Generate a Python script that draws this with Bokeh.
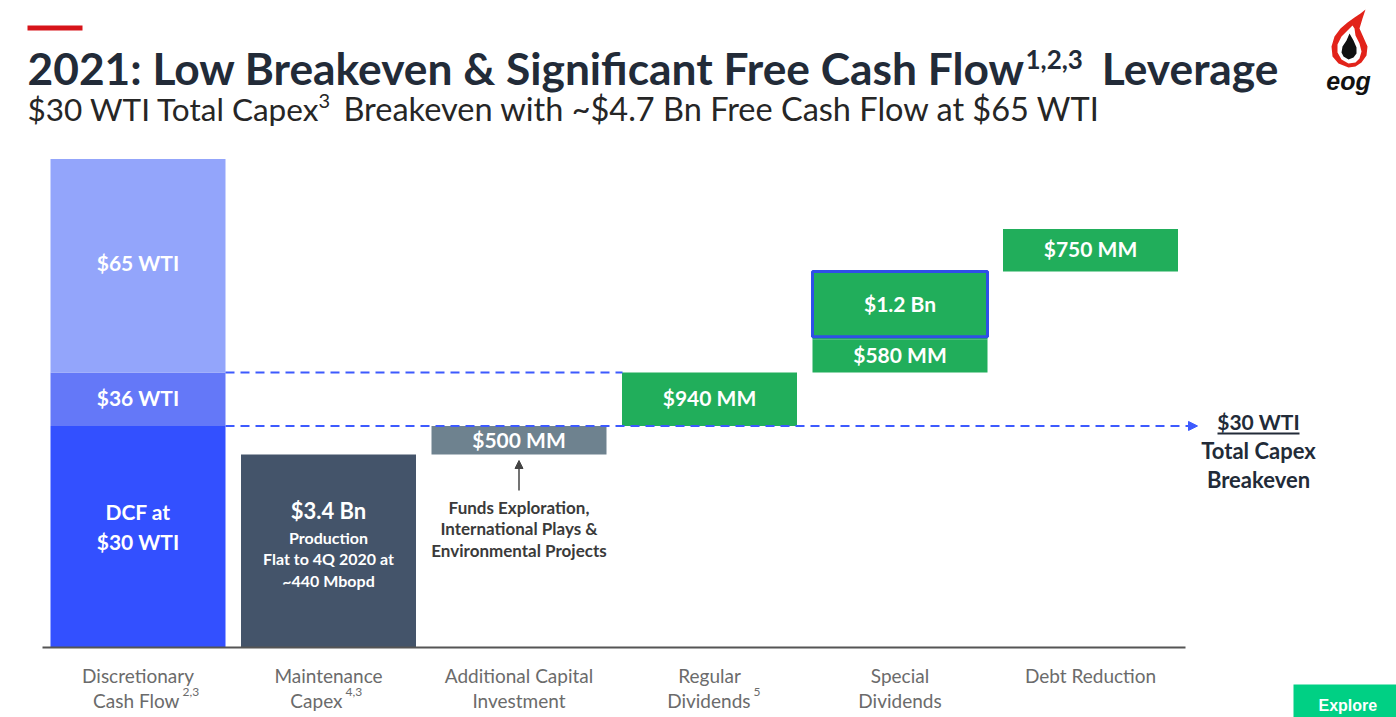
from bokeh.plotting import figure
from bokeh.models import Range1d, Arrow, NormalHead, ColumnDataSource
from bokeh.embed import file_html
from bokeh.resources import INLINE
from bokeh.core.properties import value

# ---------------- data ----------------
categories = ["Discretionary", "Maintenance", "Additional Capital", "Regular", "Special", "Debt Reduction"]
categories_line2 = ["Cash Flow", "Capex", "Investment", "Dividends", "Dividends", ""]
categories_sup = ["2,3", "4,3", "", "5", "", ""]

dcf_segments = [3.90, 0.94, 3.76]            # $Bn, stacked in the first column
dcf_labels = ["$30 WTI", "$36 WTI", "$65 WTI"]
dcf_colors = ["#3350FF", "#6478F8", "#93A5FB"]

uses_cat = [1, 2, 3, 4, 4, 5]                 # column index of each use
uses_values = [3.40, 0.50, 0.94, 0.58, 1.20, 0.75]   # $Bn
uses_labels = ["$3.4 Bn", "$500 MM", "$940 MM", "$580 MM", "$1.2 Bn", "$750 MM"]
uses_colors = ["#44546A", "#6E828F", "#21AE5B", "#21AE5B", "#21AE5B", "#21AE5B"]

# ---------------- layout helpers (page pixels -> data) ----------------
W, H = 1396, 717
X0, STEP = 137.5, 190.5      # pixel centre of column 0, column spacing
BASE, SCALE = 647.0, 56.8    # pixel of zero, pixels per $Bn


def sx(px):
    return (px - X0) / STEP


def sy(py):
    return (BASE - py) / SCALE


FONT = "Lato"
BAR_W = 175 / STEP

p = figure(width=W, height=H, x_range=Range1d(sx(0), sx(W)), y_range=Range1d(sy(H), sy(0)),
           x_axis_type=None, y_axis_type=None, toolbar_location=None, output_backend="svg",
           min_border=0, outline_line_color=None, background_fill_color="white",
           border_fill_color="white")
p.grid.visible = False


def txt(x, y, t, size, color="#222B38", style="normal", align="left", font=FONT, baseline="middle",
        y_off=0):
    """x, y in data units."""
    p.text(x=[x], y=[y], y_offset=[y_off], text=[t], text_font_size=size, text_color=color,
           text_font=value(font), text_font_style=style, text_align=align, text_baseline=baseline)


# ---------------- first column (stacked) ----------------
bottoms, tops = [], []
acc = 0.0
for v in dcf_segments:
    bottoms.append(acc)
    acc += v
    tops.append(acc)
src_dcf = ColumnDataSource(dict(x=[0] * len(dcf_segments), bottom=bottoms, top=tops,
                                color=dcf_colors, label=dcf_labels,
                                mid=[(b + t) / 2 for b, t in zip(bottoms, tops)]))
p.vbar(x="x", bottom="bottom", top="top", width=BAR_W, fill_color="color", line_color=None, source=src_dcf)
p.text(x=[0, 0], y=[src_dcf.data["mid"][1], src_dcf.data["mid"][2]], y_offset=[-2, -3],
       text=dcf_labels[1:], text_color="white", text_font=value(FONT),
       text_font_style="bold", text_font_size="21px", text_align="center", text_baseline="middle")
dmid = src_dcf.data["mid"][0]
txt(0, dmid, "DCF at", "21px", color="white", style="bold", align="center", y_off=-25)
txt(0, dmid, dcf_labels[0], "21px", color="white", style="bold", align="center", y_off=5)

# ---------------- waterfall of uses ----------------
u_bottom, u_top = [], []
level = 0.0
for i, v in enumerate(uses_values):
    if i > 0 and uses_cat[i] == uses_cat[i - 1]:
        b = u_top[-1]
    else:
        b = level
    u_bottom.append(b)
    u_top.append(b + v)
    level = b + v
src_u = ColumnDataSource(dict(x=uses_cat, bottom=u_bottom, top=u_top, color=uses_colors,
                              label=uses_labels, mid=[(b + t) / 2 for b, t in zip(u_bottom, u_top)]))
p.vbar(x="x", bottom="bottom", top="top", width=BAR_W, fill_color="color", line_color=None, source=src_u)

# highlighted special dividend box
i_sp = 4
p.vbar(x=[uses_cat[i_sp]], bottom=[u_bottom[i_sp] + 0.05], top=[u_top[i_sp]], width=BAR_W,
       fill_color=None, line_color="#2F4FE8", line_width=3)

# labels in bars
lab_idx = [1, 2, 3, 4, 5]
p.text(x=[uses_cat[i] for i in lab_idx], y=[(u_bottom[i] + u_top[i]) / 2 for i in lab_idx],
       y_offset=[-1, -2, -2, -2, -2],
       text=[uses_labels[i] for i in lab_idx], text_color="white", text_font=value(FONT),
       text_font_style="bold", text_font_size="21px", text_align="center", text_baseline="middle")
m_mid = (u_bottom[0] + u_top[0]) / 2
mx = uses_cat[0]
txt(mx, m_mid, uses_labels[0], "22px", color="white", style="bold", align="center", y_off=-40)
for off, line in zip([-13, 8, 30], ["Production", "Flat to 4Q 2020 at", "~440 Mbopd"]):
    txt(mx, m_mid, line, "16px", color="white", style="bold", align="center", y_off=off)

# ---------------- dashed reference lines ----------------
lvl36 = tops[1]
lvl30 = tops[0]
p.line(x=[sx(225), sx(622)], y=[lvl36, lvl36], line_color="#3D5AFE", line_width=2, line_dash="9 6")
p.add_layout(Arrow(x_start=sx(225), y_start=lvl30, x_end=sx(1197), y_end=lvl30,
                   line_color="#3D5AFE", line_width=2, line_dash="9 6",
                   end=NormalHead(size=9, fill_color="#3D5AFE", line_color="#3D5AFE")))

# ---------------- axis baseline ----------------
p.line(x=[sx(42), sx(1185)], y=[0, 0], line_color="#555555", line_width=2)

# category labels
p.text(x=list(range(len(categories))), y=[sy(675)] * len(categories), text=categories,
       text_color="#6B6B6B", text_font=value(FONT), text_font_size="19px", text_align="center",
       text_baseline="middle")
line2_x = {0: 179, 1: 342, 3: 750}
for i, t in enumerate(categories_line2):
    if not t:
        continue
    if i in line2_x:
        txt(sx(line2_x[i]), sy(700), t, "19px", color="#6B6B6B", align="right")
        txt(sx(line2_x[i] + 3), sy(691), categories_sup[i], "12px", color="#6B6B6B")
    else:
        txt(i, sy(700), t, "19px", color="#6B6B6B", align="center")

# ---------------- annotations ----------------
p.add_layout(Arrow(x_start=2, y_start=sy(490), x_end=2, y_end=sy(460), line_color="#444444", line_width=1.5,
                   end=NormalHead(size=8, fill_color="#444444", line_color="#444444")))
for yy, line in zip([507, 528, 550], ["Funds Exploration,", "International Plays &", "Environmental Projects"]):
    txt(2, sy(yy), line, "17px", color="#3A3A3A", style="bold", align="center")

txt(sx(1258), sy(421), "$30 WTI", "21px", style="bold", align="center")
p.line(x=[sx(1217), sx(1299)], y=[sy(433), sy(433)], line_color="#222B38", line_width=2)
txt(sx(1258), sy(450), "Total Capex", "22px", style="bold", align="center")
txt(sx(1258), sy(479), "Breakeven", "22px", style="bold", align="center")

# ---------------- title block ----------------
p.quad(left=[sx(27)], right=[sx(82)], top=[sy(25)], bottom=[sy(30)], fill_color="#D7141A", line_color=None)
txt(sx(27), sy(67), "2021: Low Breakeven & Significant Free Cash Flow", "44.3px", style="bold")
txt(sx(1025), sy(59), "1,2,3", "26px", style="bold")
txt(sx(1278), sy(67), "Leverage", "44.3px", style="bold", align="right")
txt(sx(27), sy(108), "$30 WTI Total Capex", "31.5px", color="#262626")
txt(sx(318), sy(100), "3", "20px", color="#262626")
txt(sx(1100), sy(108), "Breakeven with ~$4.7 Bn Free Cash Flow at $65 WTI", "32.5px", color="#262626",
    align="right")

# ---------------- logo ----------------
outer_x = [1348, 1338, 1332, 1331, 1334, 1340, 1347, 1354, 1360, 1365, 1362, 1359, 1363, 1367, 1366, 1361, 1355]
outer_y = [67, 63, 56, 46, 36, 28, 22, 17, 13, 9, 18, 28, 37, 46, 55, 62, 66]
inner_x = [1348, 1341, 1337, 1337, 1341, 1347, 1352, 1354, 1355, 1359, 1361, 1359, 1355]
inner_y = [63, 59, 52, 44, 36, 30, 25, 28, 35, 43, 51, 58, 62]
drop_x = [1349, 1346, 1342, 1341, 1343, 1348, 1353, 1356, 1356, 1353]
drop_y = [33, 40, 46, 52, 56, 59, 57, 53, 47, 40]
p.patch([sx(v) for v in outer_x], [sy(v) for v in outer_y], fill_color="#E2231A", line_color=None)
p.patch([sx(v) for v in inner_x], [sy(v) for v in inner_y], fill_color="white", line_color=None)
p.patch([sx(v) for v in drop_x], [sy(v) for v in drop_y], fill_color="#111111", line_color=None)
txt(sx(1348), sy(80), "eog", "25px", color="#111111", style="bold italic", align="center",
    font="Liberation Sans")

# ---------------- page overlay button ----------------
p.quad(left=[sx(1293)], right=[sx(W)], top=[sy(684)], bottom=[sy(H)], fill_color="#00D084", line_color=None)
txt(sx(1318), sy(705), "Explore", "16px", color="white", style="bold", font="Liberation Sans")

open("out.html", "w").write(file_html(p, INLINE))
